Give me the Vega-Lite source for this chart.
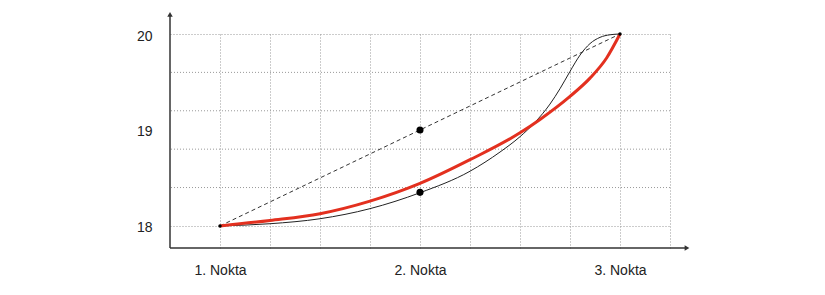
{
  "$schema": "https://vega.github.io/schema/vega-lite/v6.json",
  "autosize": {"type": "none"},
  "padding": {"left": 170, "top": 34, "right": 155, "bottom": 47},
  "width": 500,
  "height": 214,
  "background": "white",
  "config": {
    "view": {"stroke": null},
    "font": "Liberation Sans"
  },
  "datasets": {
    "curves": [
      {"series": "dashed", "x": 1, "y": 18},
      {"series": "dashed", "x": 3, "y": 20},
      {"series": "red", "x": 1, "y": 18},
      {"series": "red", "x": 1.25, "y": 18.057},
      {"series": "red", "x": 1.5, "y": 18.127},
      {"series": "red", "x": 1.75, "y": 18.258},
      {"series": "red", "x": 2, "y": 18.443},
      {"series": "red", "x": 2.25, "y": 18.69},
      {"series": "red", "x": 2.5, "y": 18.97},
      {"series": "red", "x": 2.6, "y": 19.11},
      {"series": "red", "x": 2.75, "y": 19.35},
      {"series": "red", "x": 2.85, "y": 19.54},
      {"series": "red", "x": 2.933, "y": 19.75},
      {"series": "red", "x": 3, "y": 20},
      {"series": "black", "x": 1, "y": 18},
      {"series": "black", "x": 1.25, "y": 18.023},
      {"series": "black", "x": 1.5, "y": 18.075},
      {"series": "black", "x": 1.75, "y": 18.18},
      {"series": "black", "x": 2, "y": 18.346},
      {"series": "black", "x": 2.25, "y": 18.57},
      {"series": "black", "x": 2.4, "y": 18.77},
      {"series": "black", "x": 2.5, "y": 18.93},
      {"series": "black", "x": 2.575, "y": 19.08},
      {"series": "black", "x": 2.65, "y": 19.27},
      {"series": "black", "x": 2.7, "y": 19.43},
      {"series": "black", "x": 2.75, "y": 19.61},
      {"series": "black", "x": 2.8, "y": 19.78},
      {"series": "black", "x": 2.85, "y": 19.9},
      {"series": "black", "x": 2.9, "y": 19.965},
      {"series": "black", "x": 2.95, "y": 19.992},
      {"series": "black", "x": 3, "y": 20}
    ],
    "hgrid": [
      {"y": 18.4},
      {"y": 18.8},
      {"y": 19.2},
      {"y": 19.6}
    ],
    "dots": [
      {"x": 2, "y": 19, "kind": "big"},
      {"x": 2, "y": 18.35, "kind": "big"},
      {"x": 1, "y": 18, "kind": "small"},
      {"x": 3, "y": 20, "kind": "small"}
    ],
    "axislines": [
      {"x": 0.75, "y": 17.77, "x2": 3.33, "y2": 17.77},
      {"x": 0.75, "y": 17.77, "x2": 0.75, "y2": 20.2}
    ],
    "arrows": [
      {"x": 3.335, "y": 17.77, "shape": "triangle-right"},
      {"x": 0.75, "y": 20.205, "shape": "triangle-up"}
    ]
  },
  "layer": [
    {
      "data": {"name": "hgrid"},
      "mark": {"type": "rule", "color": "#999999", "strokeWidth": 1, "strokeDash": [1, 2]},
      "encoding": {
        "y": {"field": "y", "type": "quantitative"}
      }
    },
    {
      "data": {"name": "curves"},
      "transform": [{"filter": "datum.series == 'dashed'"}],
      "mark": {"type": "line", "color": "#333333", "strokeWidth": 1, "strokeDash": [4, 3]},
      "encoding": {
        "x": {
          "field": "x", "type": "quantitative",
          "scale": {"domain": [0.75, 3.25], "nice": false, "zero": false},
          "axis": {
            "title": null,
            "domain": false,
            "ticks": false,
            "values": [1, 1.25, 1.5, 1.75, 2, 2.25, 2.5, 2.75, 3, 3.25],
            "labelExpr": "datum.value == 1 ? '1. Nokta' : datum.value == 2 ? '2. Nokta' : datum.value == 3 ? '3. Nokta' : ''",
            "labelOverlap": false,
            "labelFontSize": 14,
            "labelColor": "#222222",
            "labelPadding": 15,
            "labelFont": "Liberation Sans",
            "grid": true,
            "gridColor": "#999999",
            "gridDash": [1, 2],
            "gridWidth": 1
          }
        },
        "y": {
          "field": "y", "type": "quantitative",
          "scale": {"domain": [17.77, 20], "nice": false, "zero": false},
          "axis": {
            "title": null,
            "domain": false,
            "ticks": false,
            "values": [18, 19, 20],
            "format": "d",
            "labelOverlap": false,
            "labelFontSize": 14,
            "labelColor": "#222222",
            "labelPadding": 18,
            "labelOffset": 2,
            "labelFont": "Liberation Sans",
            "grid": true,
            "gridColor": {"condition": {"test": "abs(datum.value - 19) < 0.01", "value": "transparent"}, "value": "#999999"},
            "gridDash": [1, 2],
            "gridWidth": 1
          }
        }
      }
    },
    {
      "data": {"name": "curves"},
      "transform": [{"filter": "datum.series == 'black'"}],
      "mark": {"type": "line", "color": "#222222", "strokeWidth": 1, "interpolate": "monotone"},
      "encoding": {
        "x": {"field": "x", "type": "quantitative"},
        "y": {"field": "y", "type": "quantitative"}
      }
    },
    {
      "data": {"name": "curves"},
      "transform": [{"filter": "datum.series == 'red'"}],
      "mark": {"type": "line", "color": "#e3301f", "strokeWidth": 3, "interpolate": "monotone"},
      "encoding": {
        "x": {"field": "x", "type": "quantitative"},
        "y": {"field": "y", "type": "quantitative"}
      }
    },
    {
      "data": {"name": "axislines"},
      "mark": {"type": "rule", "color": "#333333", "strokeWidth": 1.5},
      "encoding": {
        "x": {"field": "x", "type": "quantitative"},
        "y": {"field": "y", "type": "quantitative"},
        "x2": {"field": "x2"},
        "y2": {"field": "y2"}
      }
    },
    {
      "data": {"name": "arrows"},
      "mark": {"type": "point", "filled": true, "color": "#333333", "size": 30, "opacity": 1},
      "encoding": {
        "x": {"field": "x", "type": "quantitative"},
        "y": {"field": "y", "type": "quantitative"},
        "shape": {"field": "shape", "type": "nominal", "scale": null, "legend": null}
      }
    },
    {
      "data": {"name": "dots"},
      "mark": {"type": "point", "filled": true, "color": "#000000", "opacity": 1},
      "encoding": {
        "x": {"field": "x", "type": "quantitative"},
        "y": {"field": "y", "type": "quantitative"},
        "size": {"field": "kind", "type": "nominal", "scale": {"domain": ["big", "small"], "range": [50, 12]}, "legend": null}
      }
    }
  ]
}
